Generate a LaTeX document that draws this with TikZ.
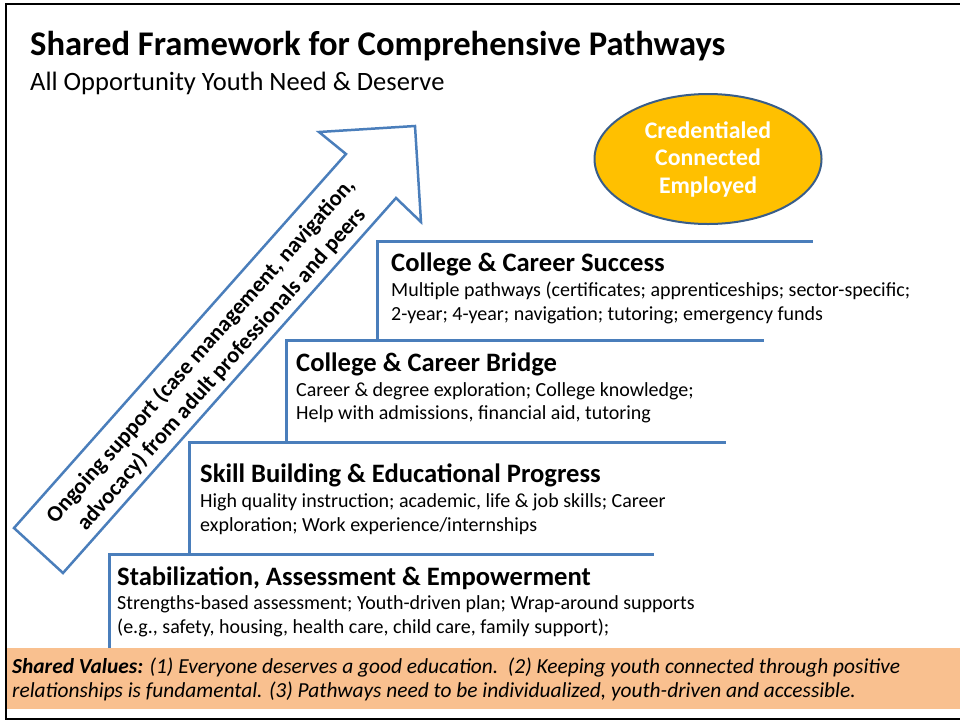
\documentclass[tikz,border=0pt]{standalone}
\usepackage{fontspec}
\setmainfont{Carlito}
\usetikzlibrary{shapes.geometric}
\definecolor{bleu}{HTML}{4A7EBB}
\definecolor{bleufonce}{HTML}{385D8A}
\definecolor{orjaune}{HTML}{FFC000}
\definecolor{peche}{HTML}{F9C08F}
\begin{document}
\begin{tikzpicture}[x=1pt,y=-1pt]
\tikzset{marche/.style={draw=bleu, line width=3pt},
  titremarche/.style={anchor=base west, inner sep=0pt, font=\fontsize{26.6}{30}\selectfont\bfseries},
  textemarche/.style={anchor=base west, inner sep=0pt, align=left, font=\fontsize{20}{23.3}\selectfont}}
\useasboundingbox (0,0) rectangle (960,721);
\clip (0,0) rectangle (960,721);
% cadre et bandeau
\fill[peche] (6,648) rectangle (962,709);
\draw[line width=2.5pt] (6,4) rectangle (962,719);
\node[anchor=base west, inner sep=0pt, font=\fontsize{34.6}{40}\selectfont\bfseries] (titre) at (30,55) {Shared Framework for Comprehensive Pathways};
\node[anchor=base west, inner sep=0pt, font=\fontsize{26.5}{30}\selectfont] (soustitre) at (30,90) {All Opportunity Youth Need \& Deserve};
% fleche
\draw[draw=bleu, line width=2.5pt, fill=white, line join=miter]
  (14,528) -- (346,154) -- (319,132) -- (415,126) -- (421,222) -- (396,198) -- (63,573) -- cycle;
\node[rotate=48.4, align=center, inner sep=0pt, font=\fontsize{22.5}{27.5}\selectfont\bfseries] (support) at (211,360)
  {Ongoing support (case management, navigation,\\advocacy) from adult professionals and peers};
% but
\node[ellipse, draw=bleufonce, line width=2pt, fill=orjaune, minimum width=227pt, minimum height=130pt,
  text=white, align=center, font=\fontsize{23.8}{27.5}\selectfont\bfseries] (but) at (708,159)
  {Credentialed\\Connected\\Employed};
% marches
\draw[marche] (377,340) |- (813,241);
\draw[marche] (286,442) |- (764,340);
\draw[marche] (189,554) |- (726,442);
\draw[marche] (109,648) |- (654,554);
\node[titremarche] (T4) at (391,271) {College \& Career Success};
\node[textemarche] (E4) at (391,320) {Multiple pathways (certificates; apprenticeships; sector-specific;\\2-year; 4-year; navigation; tutoring; emergency funds};
\node[titremarche] (T3) at (296,371) {College \& Career Bridge};
\node[textemarche] (E3) at (296,419.5) {Career \& degree exploration; College knowledge;\\Help with admissions, financial aid, tutoring};
\node[titremarche] (T2) at (200,482) {Skill Building \& Educational Progress};
\node[textemarche] (E2) at (200,531) {High quality instruction; academic, life \& job skills; Career\\exploration; Work experience/internships};
\node[titremarche] (T1) at (117,585) {Stabilization, Assessment \& Empowerment};
\node[textemarche] (E1) at (117,633) {Strengths-based assessment; Youth-driven plan; Wrap-around supports\\(e.g., safety, housing, health care, child care, family support);};
% valeurs
\node[anchor=base west, inner sep=0pt, align=left, font=\fontsize{21.4}{23.5}\selectfont\itshape] (valeurs) at (12,697)
  {\textbf{Shared Values:} (1) Everyone deserves a good education.\ \ (2) Keeping youth connected through positive\\relationships is fundamental. (3) Pathways need to be individualized, youth-driven and accessible.};
\end{tikzpicture}
\end{document}
